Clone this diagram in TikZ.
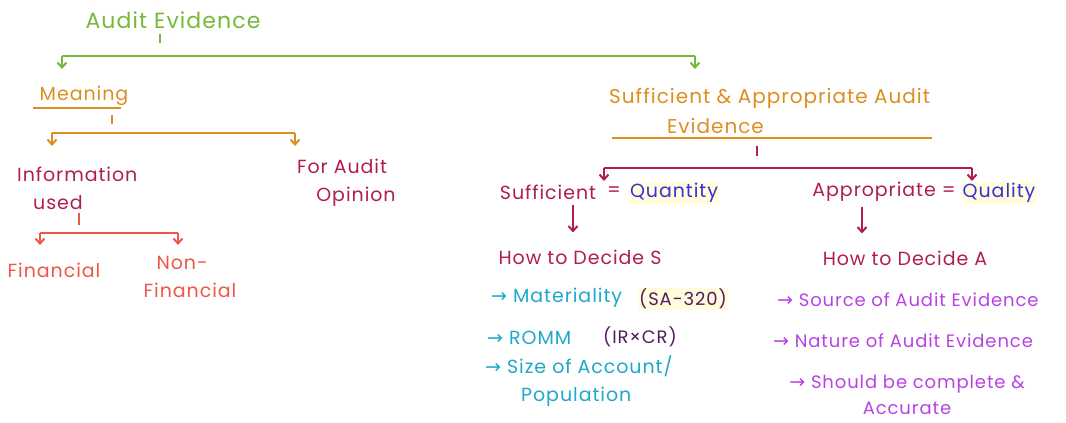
\documentclass[tikz,border=0pt]{standalone}
\usepackage{fontspec}
\setmainfont{Poppins}[LetterSpace=5]
\newfontfamily\arrowfont{DejaVu Sans}
\newcommand{\lstarrow}{{\arrowfont\fontsize{19}{20}\selectfont →}}
\usepackage{xcolor}
\usepackage{tikz}
\usetikzlibrary{arrows.meta, positioning, calc}

\definecolor{aegreen}{RGB}{118,184,58}
\definecolor{aeorange}{RGB}{220,142,32}
\definecolor{aecrimson}{RGB}{176,30,78}
\definecolor{aesalmon}{RGB}{238,86,72}
\definecolor{aeblue}{RGB}{58,46,222}
\definecolor{aecyan}{RGB}{30,168,204}
\definecolor{aeviolet}{RGB}{184,66,228}
\definecolor{aeplum}{RGB}{84,26,96}

\begin{document}
\begin{tikzpicture}[
  x=1pt, y=-1pt,
  every node/.style={font=\fontsize{19}{28}\selectfont, inner sep=1pt},
  lbl/.style={align=center},
  lst/.style={anchor=west, align=left},
  hl/.style={fill=yellow!14},
  bar/.style={line width=2.6pt},
  tick/.style={line width=2pt},
  arr/.style={line width=2pt, -{Straight Barb[length=5pt, width=9pt]}},
]
\useasboundingbox (0,0) rectangle (1066,423);

% --- row 0: root
\node[lbl, text=aegreen, font=\fontsize{22}{26}\selectfont] (ae) at (173,20) {Audit Evidence};
\coordinate (gL) at (62,56);
\coordinate (gR) at (695,56);
\draw[tick, aegreen] ($(ae.south)+(-13,4)$) -- ++(0,9);
\draw[bar, aegreen] (gL) -- (gR);
\draw[arr, aegreen] (gL) -- ++(0,13);
\draw[arr, aegreen] (gR) -- ++(0,13);

% --- left: meaning
\node[lbl, text=aeorange] (mean) at (84,96) {Meaning};
\draw[bar, aeorange] ($(mean.south west)+(-6,1)$) -- ($(mean.south east)+(-8,1)$);
\draw[tick, aeorange] ($(mean.south)+(28,8)$) -- ++(0,9);
\coordinate (oL) at (52,133);
\coordinate (oR) at (295,133);
\draw[bar, aeorange] (oL) -- (oR);
\draw[arr, aeorange] (oL) -- ++(0,13);
\draw[arr, aeorange] (oR) -- ++(0,13);

\node[lst, text=aecrimson] (info) at (16,188) {Information\\\hspace*{16pt}used};
\node[lbl, text=aecrimson] (opin) at (342,183) {For Audit\\\hspace*{28pt}Opinion};

% --- left: information used
\draw[tick, aesalmon] ($(info.south)+(2,2)$) -- ++(0,12);
\coordinate (rL) at (40,233);
\coordinate (rR) at (178,233);
\draw[bar, aesalmon] (rL) -- (rR);
\draw[arr, aesalmon] (rL) -- ++(0,12);
\draw[arr, aesalmon] (rR) -- ++(0,12);
\node[lbl, text=aesalmon] (fin) at (54,270) {Financial};
\node[lbl, text=aesalmon] (nfin) at (190,277) {\hspace*{-16pt}Non-\\Financial};

% --- right: sufficient & appropriate
\node[lst, text=aeorange, font=\fontsize{20}{30}\selectfont] (saae) at (608,111) {Sufficient \& Appropriate Audit\\\hspace*{58pt}Evidence};
\draw[bar, aeorange] (612,138) coordinate (uL) -- (932,138) coordinate (uR);
\draw[tick, aecrimson] ($(uL)!0.453!(uR)+(0,8)$) -- ++(0,10);
\coordinate (cL) at (604,168);
\coordinate (cR) at (972,168);
\draw[bar, aecrimson] (cL) -- (cR);
\draw[arr, aecrimson] (cL) -- ++(0,13);
\draw[arr, aecrimson] (cR) -- ++(0,13);

\node[lbl, text=aecrimson] (suff) at (548,192) {Sufficient};
\node[lbl, text=aecrimson] (eqS) at (614,192) {=};
\node[lbl, text=aeblue, hl] (quant) at (674,193) {Quantity};
\node[lbl, text=aecrimson] (howS) at (580,257) {How to Decide S};
\draw[arr, aecrimson, shorten <=4pt, shorten >=16pt] ($(suff.south)+(25,0)$) -- ($(howS.north)+(-7,0)$);

\node[lbl, text=aecrimson] (appr) at (884,192) {Appropriate =};
\node[lbl, text=aeblue, hl] (qual) at (999,193) {Quality};
\node[lbl, text=aecrimson] (howA) at (905,258) {How to Decide A};
\draw[arr, aecrimson, shorten <=4pt, shorten >=16pt] ($(appr.south)+(-22,0)$) -- ($(howA.north)+(-43,0)$);

% --- lists
\node[lst, text=aecyan] (mat) at (490,298) {\lstarrow\ Materiality};
\node[lst, text=aeplum, hl, font=\fontsize{18}{20}\selectfont] (sa) at (638,299) {(SA-320)};
\node[lst, text=aecyan] (romm) at (486,338) {\lstarrow\ ROMM};
\node[lst, text=aeplum, font=\fontsize{18}{20}\selectfont] (irc) at (602,337) {(IR×CR)};
\node[lst, text=aecyan] (size) at (484,381) {\lstarrow\ Size of Account/\\\hspace*{36pt}Population};

\node[lst, text=aeviolet, font=\fontsize{18}{26}\selectfont] (src) at (776,300) {\lstarrow\ Source of Audit Evidence};
\node[lst, text=aeviolet, font=\fontsize{18}{26}\selectfont] (nat) at (772,341) {\lstarrow\ Nature of Audit Evidence};
\node[lbl, text=aeviolet, font=\fontsize{18}{26}\selectfont] (cmp) at (907,395) {\lstarrow\ Should be complete \&\\Accurate};
\end{tikzpicture}
\end{document}
